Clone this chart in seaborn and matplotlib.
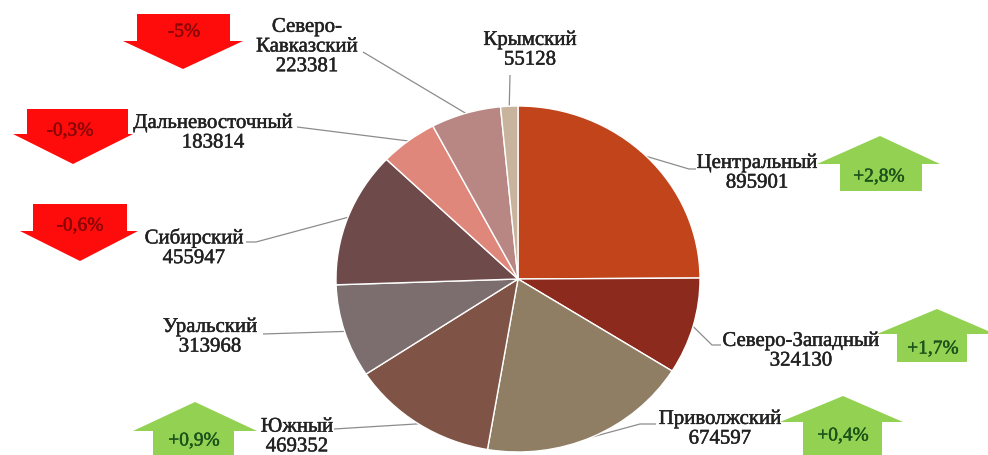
import matplotlib
matplotlib.use('Agg')
import matplotlib.pyplot as plt
import matplotlib.patheffects as pe
import seaborn as sns
import numpy as np
from matplotlib.patches import Polygon

sns.set_theme(style='white')
plt.rcParams['font.family'] = ['Liberation Serif', 'DejaVu Serif']

# data
regions = ['Центральный', 'Северо-Западный', 'Приволжский', 'Южный', 'Уральский',
           'Сибирский', 'Дальневосточный', 'Северо-\nКавказский', 'Крымский']
values = [895901, 324130, 674597, 469352, 313968, 455947, 183814, 223381, 55128]
changes = ['+2,8%', '+1,7%', '+0,4%', '+0,9%', None, '-0,6%', '-0,3%', '-5%', None]

colors = ['#c1441b', '#8c2a1d', '#8f7e63', '#7f5345', '#7c6e6f',
          '#6e4a4b', '#e0877b', '#b98783', '#c8b49d']

# layout (pixels, y from top)
W, H = 988, 456
pie_box = (336, 107, 364, 346)  # left, top, width, height
label_xy = [(757, 174), (801, 352), (720, 430), (297, 438), (210, 338),
            (194, 249), (213, 134), (307, 48), (530, 51)]
leader_start = [(696, 170), (721, 346), (656, 425), (334, 430), (263, 335),
                (246, 243), (297, 128), (363, 53), (510, 76)]
leader_elbow = [689, 712, 640, 334, 263, 256, 297, 363, 510]

# arrows: tip, neck y, head x0-x1, body x0-x1, body end y, text pos
arrows = {
    '+2,8%': ((880, 137), 165, (817, 940), (840, 922), 192, (879, 178)),
    '+1,7%': ((937, 310), 335, (877, 995), (897, 967), 363, (933, 350)),
    '+0,4%': ((843, 397), 423, (780, 903), (803, 882), 460, (843, 437)),
    '+0,9%': ((195, 403), 432, (133, 257), (153, 234), 460, (194, 442)),
    '-0,6%': ((80, 262), 232, (20, 138), (33, 127), 205, (80, 227)),
    '-0,3%': ((73, 165), 135, (13, 133), (27, 128), 110, (70, 132)),
    '-5%': ((183, 70), 42, (123, 243), (137, 230), 15, (184, 33)),
}

fig = plt.figure(figsize=(W / 100, H / 100), dpi=100)
over = fig.add_axes([0, 0, 1, 1])
over.set_xlim(0, W)
over.set_ylim(H, 0)
over.axis('off')

pl, pt, pw, ph = pie_box
ax = fig.add_axes([pl / W, (H - pt - ph) / H, pw / W, ph / H])
wedges, _ = ax.pie(values, colors=colors, startangle=90, counterclock=False,
                   wedgeprops=dict(edgecolor='white', linewidth=1.0))
ax.set_xlim(-1, 1)
ax.set_ylim(-1, 1)
ax.set_aspect('auto')
ax.axis('off')

cx, cy = pl + pw / 2, pt + ph / 2
for i, w in enumerate(wedges):
    mid = np.deg2rad((w.theta1 + w.theta2) / 2)
    ex, ey = cx + pw / 2 * np.cos(mid), cy - ph / 2 * np.sin(mid)
    sx, sy = leader_start[i]
    over.plot([sx, leader_elbow[i], ex], [sy, sy, ey], color='#8c8c8c', lw=0.9,
              solid_capstyle='butt')
    tx, ty = label_xy[i]
    over.text(tx, ty, f'{regions[i]}\n{values[i]}', ha='center', va='center',
              fontsize=15, color='#222222', linespacing=1.05,
              path_effects=[pe.withStroke(linewidth=0.35, foreground='#222222')])

for ch in changes:
    if ch is None:
        continue
    (tipx, tipy), neck, (hx0, hx1), (bx0, bx1), bend, (txx, txy) = arrows[ch]
    pts = [(bx0, bend), (bx1, bend), (bx1, neck), (hx1, neck), (tipx, tipy),
           (hx0, neck), (bx0, neck)]
    up = ch.startswith('+')
    fc = '#93d152' if up else '#fe0c0c'
    tc = '#1a521a' if up else '#8a0606'
    over.add_patch(Polygon(pts, closed=True, facecolor=fc, edgecolor='none'))
    over.text(txx, txy, ch, ha='center', va='center', fontsize=14, color=tc,
              path_effects=[pe.withStroke(linewidth=0.3, foreground=tc)])

fig.savefig('out.png', dpi=100)
